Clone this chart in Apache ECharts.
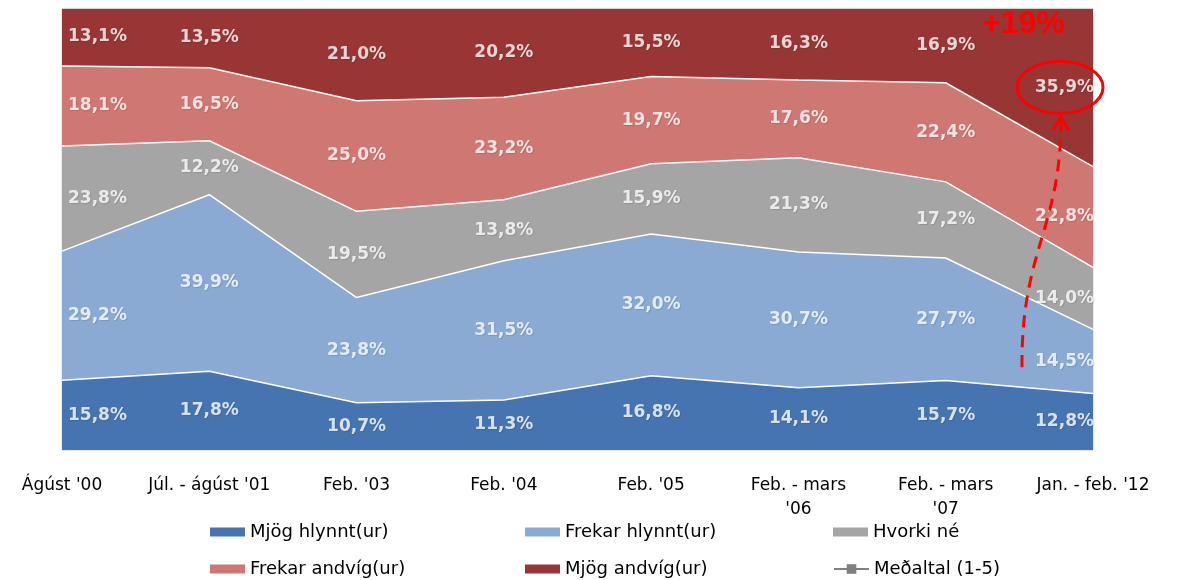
<!DOCTYPE html>
<html>
<head>
<meta charset="utf-8">
<script src="https://cdn.jsdelivr.net/npm/echarts@6/dist/echarts.min.js"></script>
<style>
  html, body { margin: 0; padding: 0; background: #fff; }
  #chart { width: 1180px; height: 580px; }
</style>
</head>
<body>
<div id="chart"></div>
<script>
const categories = ["Ágúst '00", "Júl. - ágúst '01", "Feb. '03", "Feb. '04", "Feb. '05", "Feb. - mars\n'06", "Feb. - mars\n'07", "Jan. - feb. '12"]
const mjogHlynnt = [15.8, 17.8, 10.7, 11.3, 16.8, 14.1, 15.7, 12.8]
const frekarHlynnt = [29.2, 39.9, 23.8, 31.5, 32.0, 30.7, 27.7, 14.5]
const hvorkiNe = [23.8, 12.2, 19.5, 13.8, 15.9, 21.3, 17.2, 14.0]
const frekarAndvig = [18.1, 16.5, 25.0, 23.2, 19.7, 17.6, 22.4, 22.8]
const mjogAndvig = [13.1, 13.5, 21.0, 20.2, 15.5, 16.3, 16.9, 35.9]
const seriesNames = ['Mjög hlynnt(ur)', 'Frekar hlynnt(ur)', 'Hvorki né', 'Frekar andvíg(ur)', 'Mjög andvíg(ur)']
const avgName = 'Meðaltal (1-5)'
const colors = ['#4574B0', '#8AAAD3', '#A5A5A5', '#CF7773', '#983535']

const bands = [mjogHlynnt, frekarHlynnt, hvorkiNe, frekarAndvig, mjogAndvig]
// 100% stacked: scale each column to its total
const totals = categories.map((c, j) => bands.reduce((s, b) => s + b[j], 0))

const chart = echarts.init(document.getElementById('chart'))
const font = 'DejaVu Sans'
const fmt = v => v.toFixed(1).replace('.', ',') + '%'
const last = categories.length - 1

const series = []
bands.forEach((b, i) => {
  series.push({
    name: seriesNames[i],
    type: 'line',
    stack: 'total',
    data: b.map((v, j) => v / totals[j] * 100),
    symbol: 'none',
    itemStyle: { color: colors[i] },
    lineStyle: { color: '#fff', width: 1.5 },
    areaStyle: { color: colors[i], opacity: 1 },
    z: 2
  })
})

// band labels sit in the middle of each band
bands.forEach((b, i) => {
  series.push({
    name: 'lbl' + i,
    type: 'scatter',
    symbolSize: 0,
    silent: true,
    z: 5,
    data: b.map((v, j) => {
      let below = 0
      for (let k = 0; k < i; k++) below += bands[k][j]
      const mid = (below + v / 2) / totals[j] * 100
      const item = { value: [j, mid], raw: v }
      if (j === 0) item.label = { align: 'left', offset: [6, 0] }
      if (j === last) item.label = { align: 'right', offset: [1, 0] }
      return item
    }),
    label: {
      show: true,
      position: 'inside',
      color: '#fff',
      fontFamily: font,
      fontWeight: 'bold',
      fontSize: 17,
      textShadowColor: 'rgba(0,0,0,0.15)',
      textShadowBlur: 1,
      textShadowOffsetX: 1,
      textShadowOffsetY: 1,
      formatter: p => fmt(p.data.raw)
    }
  })
})

series.push({
  name: avgName,
  type: 'line',
  data: [],
  symbol: 'rect',
  symbolSize: 6,
  itemStyle: { color: '#7F7F7F' },
  lineStyle: { color: '#7F7F7F', width: 2 }
})

const legendPos = [[210, 523], [525, 523], [833, 523], [210, 560], [525, 560], [833, 560]]
const legendNames = seriesNames.concat([avgName])
const legends = legendNames.map((n, i) => ({
  data: [i < 5 ? { name: n, icon: 'rect' } : { name: n }],
  left: legendPos[i][0],
  top: legendPos[i][1],
  padding: 0,
  itemWidth: 35,
  itemHeight: i < 5 ? 9 : 12,
  itemGap: 0,
  selectedMode: false,
  textStyle: { fontFamily: font, fontSize: 18, color: '#000', padding: [0, 0, 0, 0] }
}))

chart.setOption({
  animation: false,
  grid: { left: 62, right: 87, top: 8, bottom: 130, show: true, borderColor: '#d9d9d9', borderWidth: 1, backgroundColor: 'transparent' },
  xAxis: {
    type: 'category',
    data: categories,
    boundaryGap: false,
    axisLine: { show: false },
    axisTick: { show: false },
    axisLabel: { interval: 0, margin: 24, color: '#000', fontFamily: font, fontSize: 17, lineHeight: 24, verticalAlign: 'top' }
  },
  yAxis: {
    type: 'value',
    min: 0,
    max: 100,
    show: false,
    splitLine: { show: false }
  },
  legend: legends,
  series: series
})

// annotation anchored to the last column
const topMid = chart.convertToPixel({ gridIndex: 0 }, [last, (100 - mjogAndvig[last] / 2 / totals[last] * 100)])
const cx = topMid[0] - 33
const cy = topMid[1]
chart.setOption({
  graphic: [
    {
      type: 'text',
      left: cx - 78,
      top: 8,
      z: 10,
      style: { text: '+19%', fill: '#FF0000', font: 'bold 32px "Liberation Sans"' }
    },
    {
      type: 'ellipse',
      z: 10,
      shape: { cx: cx, cy: cy, rx: 43, ry: 26 },
      style: { fill: 'none', stroke: '#FF0000', lineWidth: 3 }
    },
    {
      type: 'bezierCurve',
      z: 10,
      shape: { x1: cx - 38, y1: cy + 280, cpx1: cx - 39, cpy1: cy + 162, cpx2: cx + 1, cpy2: cy + 142, x2: cx + 1, y2: cy + 32 },
      style: { fill: 'none', stroke: '#FF0000', lineWidth: 3, lineDash: [12, 8] }
    },
    {
      type: 'polyline',
      z: 10,
      shape: { points: [[cx - 7, cy + 42], [cx + 1, cy + 30], [cx + 9, cy + 43]] },
      style: { fill: 'none', stroke: '#FF0000', lineWidth: 3 }
    }
  ]
})
</script>
</body>
</html>
